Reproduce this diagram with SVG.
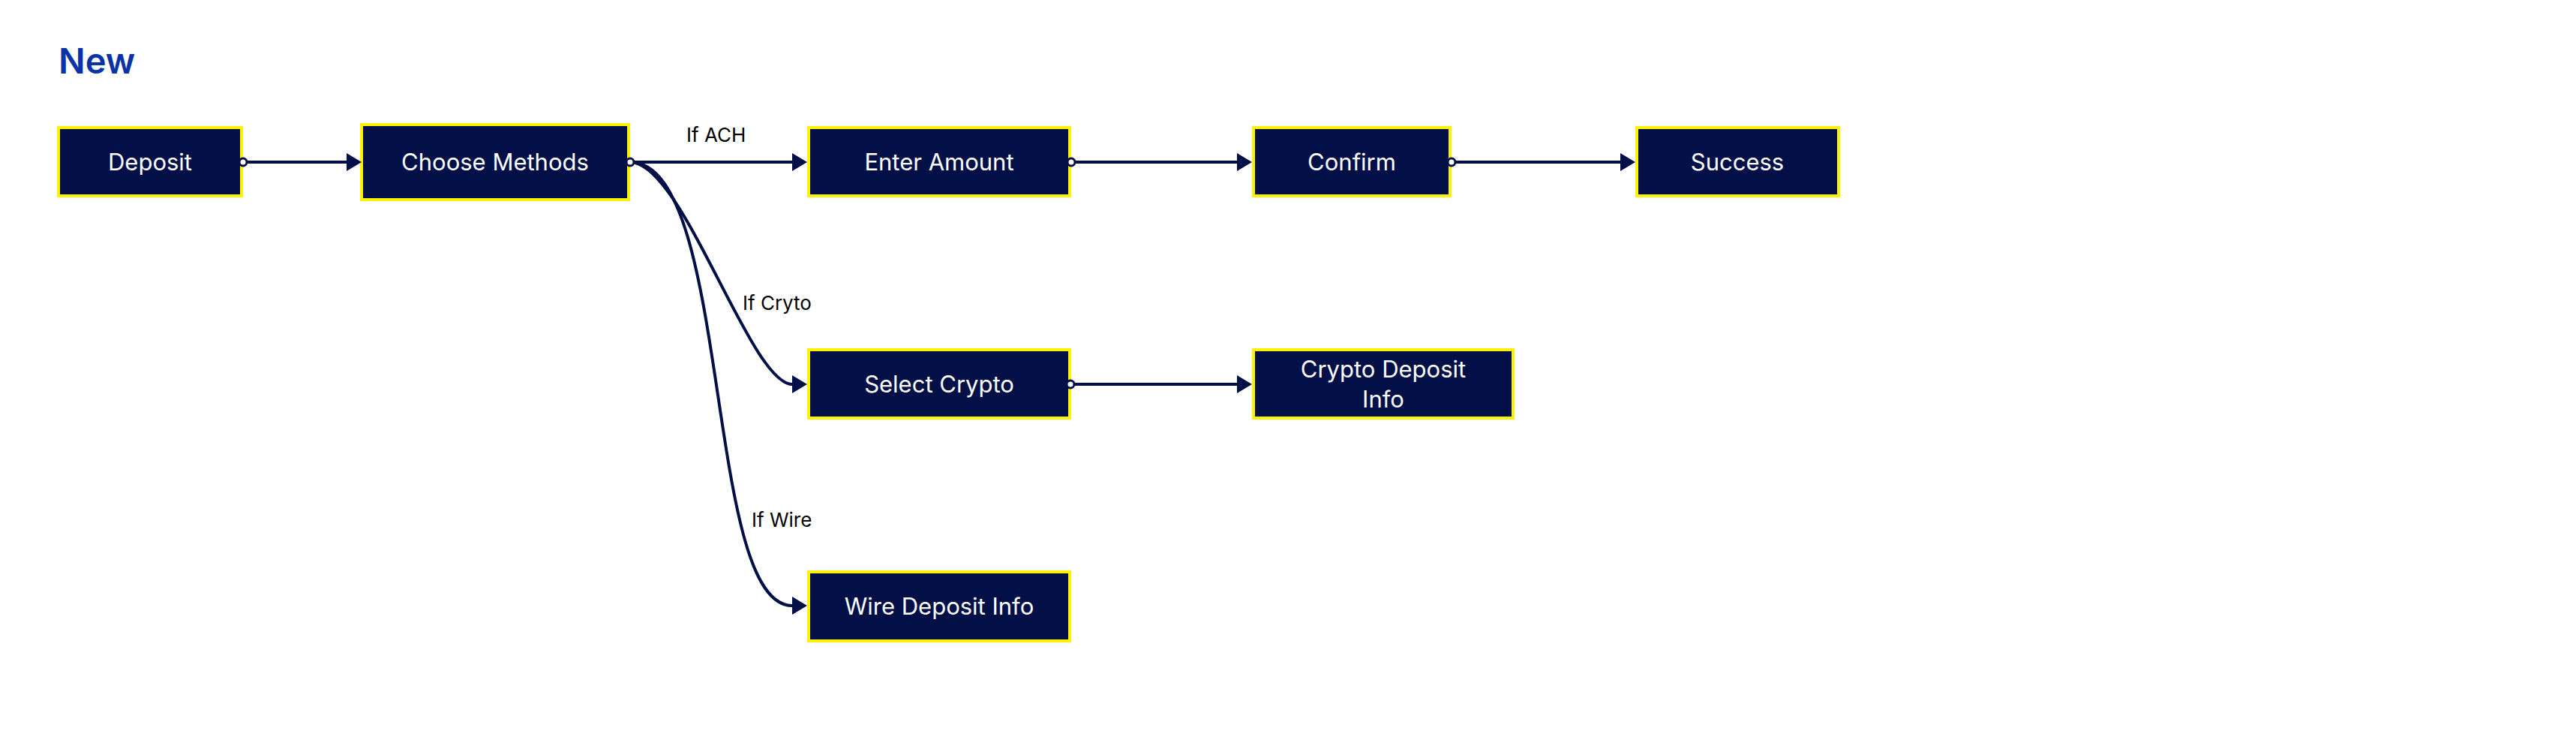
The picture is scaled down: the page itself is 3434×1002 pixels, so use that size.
<svg xmlns="http://www.w3.org/2000/svg" width="3434" height="1002" viewBox="0 0 3434 1002">
<style>
.node rect{fill:#021047;stroke:#FFF200;stroke-width:4}
.node text{fill:#ffffff;font-family:Inter,"Liberation Sans",sans-serif;font-size:31px;text-anchor:middle}
.edge{fill:none;stroke:#021047;stroke-width:4;marker-end:url(#arrow)}
.dot{fill:#ffffff;stroke:#021047;stroke-width:3}
.lbl{fill:#000000;font-family:Inter,"Liberation Sans",sans-serif;font-size:26px}
.title{fill:#0A33A8;font-family:Inter,"Liberation Sans",sans-serif;font-size:47px;font-weight:600}
</style>
<defs>
<marker id="arrow" markerUnits="userSpaceOnUse" markerWidth="20" markerHeight="24" viewBox="0 0 20 24" refX="0" refY="12" orient="auto">
<path d="M0,0 L20,12 L0,24 z" fill="#021047"/>
</marker>
</defs>
<rect width="3434" height="1002" fill="#ffffff"/>
<text class="title" x="78" y="98">New</text>
<g id="deposit" class="node"><rect x="78" y="170" width="244" height="91"/><text x="200" y="227">Deposit</text></g>
<g id="choose-methods" class="node"><rect x="482" y="166" width="356" height="100"/><text x="660" y="227">Choose Methods</text></g>
<g id="enter-amount" class="node"><rect x="1078" y="170" width="348" height="91"/><text x="1252" y="227">Enter Amount</text></g>
<g id="confirm" class="node"><rect x="1671" y="170" width="262" height="91"/><text x="1802" y="227">Confirm</text></g>
<g id="success" class="node"><rect x="2182" y="170" width="269" height="91"/><text x="2316" y="227">Success</text></g>
<g id="select-crypto" class="node"><rect x="1078" y="466" width="348" height="91"/><text x="1252" y="523">Select Crypto</text></g>
<g id="crypto-deposit-info" class="node"><rect x="1671" y="466" width="346" height="91"/><text x="1844" y="503">Crypto Deposit</text><text x="1844" y="543">Info</text></g>
<g id="wire-deposit-info" class="node"><rect x="1078" y="762" width="348" height="92"/><text x="1252" y="819">Wire Deposit Info</text></g>
<g id="connectors">
<path class="edge" d="M324,216 L462,216"/>
<path class="edge" d="M840,216 L1056,216"/>
<path class="edge" d="M840,216 C910,216 1000,512 1056,512"/>
<path class="edge" d="M840,216 C976,216 938,807 1056,807"/>
<path class="edge" d="M1428,216 L1649,216"/>
<path class="edge" d="M1935,216 L2160,216"/>
<path class="edge" d="M1427,512 L1649,512"/>
<circle class="dot" cx="324" cy="216" r="5"/>
<circle class="dot" cx="840" cy="216" r="5"/>
<circle class="dot" cx="1428" cy="216" r="5"/>
<circle class="dot" cx="1935" cy="216" r="5"/>
<circle class="dot" cx="1427" cy="512" r="5"/>
<text class="lbl" x="915" y="189">If ACH</text>
<text class="lbl" x="990" y="413">If Cryto</text>
<text class="lbl" x="1002" y="702">If Wire</text>
</g>
</svg>
